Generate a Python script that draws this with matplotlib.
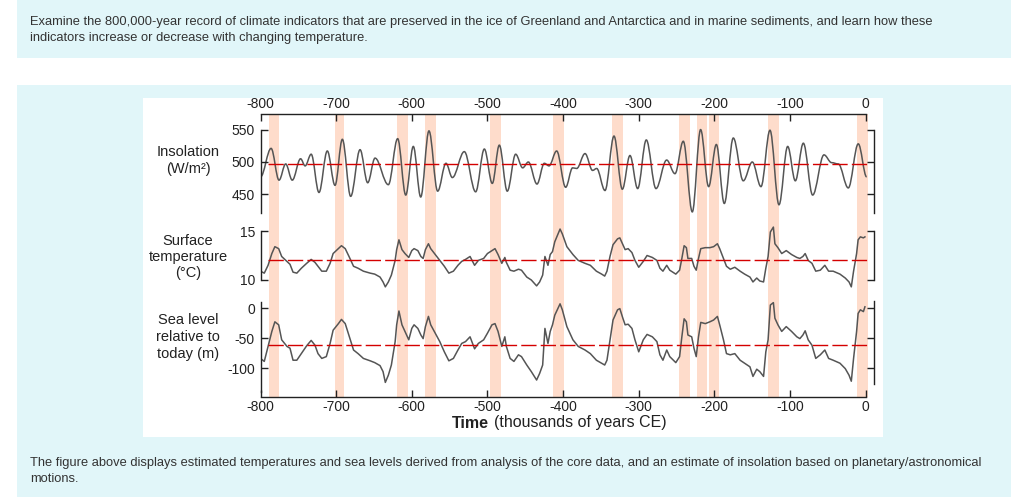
import matplotlib
matplotlib.use("Agg")
import matplotlib.pyplot as plt
from matplotlib.patches import Rectangle, PathPatch
from matplotlib.path import Path

plt.rcParams['font.family'] = ['Liberation Sans', 'DejaVu Sans']
plt.rcParams['axes.unicode_minus'] = False

# ---- data ----
x_ticks = [-800, -700, -600, -500, -400, -300, -200, -100, 0]

# interglacial bands (thousands of years)
bands = [(-789, -775), (-702, -689), (-620, -605), (-583, -568), (-497, -482),
         (-413, -399), (-335, -321), (-247, -232), (-223, -209.5), (-207, -194),
         (-129, -115), (-11.5, 2.6)]

# insolation (W/m2), peaks and troughs
t_ins = [-800, -786, -775.5, -766.7, -758, -747, -741, -733, -722.7, -711.7,
         -701.5, -691.8, -680.8, -668.4, -658.3, -648.6, -631, -618.7, -608, -598,
         -588.2, -577.3, -565.8, -554.8, -546.4, -530.6, -515.6, -504.1, -493.6, -484.3,
         -473.8, -462.7, -453.4, -445.9, -434.5, -424.8, -418.6, -408.5, -396.6, -387.4,
         -382, -371, -361, -355.6, -344.6, -332.7, -321.7, -311.6, -301.4, -290,
         -277.2, -263.1, -252.1, -241.1, -229.2, -218.2, -207.6, -197.4, -186.9, -175,
         -161.8, -149.9, -138.4, -126.5, -114.6, -103.1, -93, -82.4, -70.1, -55.1,
         -45, -36.2, -23, -9.8, 1.3]
insolation = [477, 521, 472, 497, 472, 505, 494, 512, 453, 517,
              464, 535, 447, 519, 468, 506, 465, 536, 449, 524,
              446, 548, 455, 498, 476, 516, 454, 520, 467, 526,
              455, 512, 491, 500, 466, 498, 494, 517, 461, 491,
              490, 513, 487, 490, 456, 540, 458, 510, 459, 534,
              459, 503, 482, 532, 423, 550, 462, 527, 436, 537,
              471, 500, 462, 549, 434, 524, 471, 529, 449, 511,
              499, 497, 460, 528, 477]

# core record: surface temperature (C) and sea level (m)
t_core = [-800, -795, -790, -785, -781, -776, -772, -765, -761, -757,
          -752, -746, -739, -733, -728, -724, -719, -713, -708, -704,
          -697, -693, -688, -683, -677, -671, -664, -655, -649, -642,
          -638, -635, -631, -627, -622, -620, -617, -613, -609, -604,
          -600, -597, -592, -588, -585, -582, -578, -575, -569, -563,
          -557, -551, -545, -539, -534, -529, -523, -517, -512, -505,
          -500, -494, -490, -486, -481, -477, -475, -470, -465, -459,
          -455, -448, -442, -435, -431, -427, -424, -420, -417, -414,
          -411, -404, -401, -395, -387, -380, -371, -364, -356, -349,
          -345, -342, -338, -334, -328, -325, -321, -318, -314, -309,
          -305, -300, -294, -289, -282, -276, -272, -268, -263, -259,
          -251, -246, -243, -240, -237, -235, -230, -227, -224, -221,
          -218, -212, -206, -201, -196, -193, -188, -184, -179, -173,
          -166, -160, -153, -149, -144, -140, -135, -132, -129, -126,
          -122, -120, -116, -111, -105, -98, -91, -87, -83, -80,
          -76, -71, -66, -60, -54, -49, -43, -34, -27, -22,
          -19, -16, -12, -10, -7, -3, -1]
temp = [10.9, 10.7, 11.5, 12.7, 13.4, 13.2, 12.4, 11.9, 11.6, 10.8,
        10.7, 11.2, 11.7, 12.1, 11.8, 11.4, 10.9, 10.9, 11.7, 12.7,
        13.2, 13.5, 13.2, 12.4, 11.4, 11.2, 10.9, 10.7, 10.6, 10.3,
        9.8, 9.3, 9.8, 10.5, 12.0, 13.1, 14.1, 13.1, 12.7, 12.3,
        13.0, 13.2, 13.0, 12.4, 12.2, 13.1, 13.7, 13.2, 12.6, 12.0,
        11.4, 10.7, 10.9, 11.5, 11.9, 12.1, 12.4, 11.5, 12.0, 12.2,
        12.7, 13.0, 13.2, 12.6, 11.7, 12.3, 11.8, 11.0, 10.9, 11.1,
        11.0, 10.3, 10.0, 9.4, 9.8, 10.5, 12.4, 11.5, 12.6, 12.9,
        13.9, 15.2, 14.7, 13.4, 12.6, 12.0, 11.7, 11.5, 10.9, 10.6,
        10.4, 10.9, 12.4, 13.6, 14.2, 14.3, 13.6, 13.1, 13.2, 12.8,
        12.0, 11.3, 11.9, 12.5, 12.3, 12.0, 11.2, 10.9, 11.5, 11.0,
        10.6, 11.0, 12.2, 13.5, 13.3, 12.2, 12.2, 11.4, 11.0, 12.2,
        13.2, 13.3, 13.3, 13.4, 13.7, 13.2, 12.2, 11.4, 11.1, 11.3,
        10.9, 10.6, 10.3, 9.8, 10.2, 9.9, 9.8, 11.2, 12.4, 14.9,
        15.4, 13.7, 13.3, 12.7, 13.0, 12.6, 12.3, 12.2, 12.4, 12.7,
        12.0, 11.7, 10.9, 11.0, 11.5, 10.9, 10.9, 10.6, 10.2, 9.8,
        9.3, 10.9, 12.7, 14.1, 14.4, 14.3, 14.4]
sea = [-84, -89, -64, -39, -23, -28, -53, -64, -67, -87,
       -87, -76, -63, -54, -62, -76, -84, -81, -59, -37,
       -26, -19, -26, -46, -70, -76, -84, -88, -91, -96,
       -106, -124, -112, -95, -56, -28, -5, -28, -39, -53,
       -34, -28, -34, -45, -51, -31, -14, -28, -42, -56,
       -73, -88, -84, -70, -59, -56, -48, -68, -59, -53,
       -42, -28, -26, -39, -64, -48, -64, -84, -89, -78,
       -81, -95, -106, -120, -109, -95, -34, -59, -39, -28,
       -12, 7, -3, -31, -53, -64, -70, -76, -87, -92,
       -95, -87, -53, -20, -3, -1, -17, -28, -27, -34,
       -53, -73, -53, -44, -48, -56, -78, -87, -70, -81,
       -91, -81, -48, -18, -23, -45, -48, -67, -81, -48,
       -24, -26, -23, -20, -14, -28, -53, -76, -78, -76,
       -87, -92, -98, -114, -102, -106, -114, -73, -53, 5,
       9, -17, -28, -39, -31, -39, -48, -51, -45, -38,
       -53, -62, -84, -78, -70, -84, -87, -92, -101, -112,
       -122, -84, -39, -9, -3, -6, 2]

ins_mean = 497
temp_mean = 12.0
sea_mean = -62
dash_span = [-790, 3]

ins_ticks = [450, 500, 550]
temp_ticks = [10, 15]
sea_ticks = [-100, -50, 0]

top_text = ["Examine the 800,000-year record of climate indicators that are preserved in the ice of "
            "Greenland and Antarctica and in marine sediments, and learn how these",
            "indicators increase or decrease with changing temperature."]
bottom_text = ["The figure above displays estimated temperatures and sea levels derived from analysis "
               "of the core data, and an estimate of insolation based on planetary/astronomical",
               "motions."]

# ---- style ----
W, H = 1012, 500
cyan = '#e1f6f9'
band_color = '#fedccb'
line_color = '#555555'
red = '#d40000'
ink = '#222222'

fig = plt.figure(figsize=(W / 100, H / 100), dpi=100)
fig.patch.set_facecolor('white')


def fx(px):
    return px / W


def fy(py):
    return 1 - py / H


def box(x0, y0, x1, y1, color):
    fig.add_artist(Rectangle((fx(x0), fy(y1)), fx(x1) - fx(x0), fy(y0) - fy(y1),
                             transform=fig.transFigure, facecolor=color,
                             edgecolor='none', zorder=0))


box(17, 0, 1012, 58, cyan)
box(17, 85, 1012, 497, cyan)
box(143, 98, 883, 437, 'white')

fig.text(fx(30), fy(22), top_text[0], fontsize=9.3, color='#333333', va='center')
fig.text(fx(30), fy(38), top_text[1], fontsize=9.3, color='#333333', va='center')
fig.text(fx(30), fy(463), bottom_text[0], fontsize=9.3, color='#333333', va='center')
fig.text(fx(30), fy(479), bottom_text[1], fontsize=9.3, color='#333333', va='center')

# chart area in pixels
left, right, top, bottom = 260.5, 874, 114, 397
rect = [fx(left), fy(bottom), fx(right) - fx(left), fy(top) - fy(bottom)]
xlim = (-800, 11)

ax = fig.add_axes(rect)
ax.set_xlim(*xlim)
ax.set_ylim(0, 1)
ax.patch.set_visible(False)
for a, b in bands:
    ax.axvspan(a, b, color=band_color, lw=0, zorder=0)
for s in ['left', 'right']:
    ax.spines[s].set_visible(False)
for s in ['top', 'bottom']:
    ax.spines[s].set_bounds(-800, 0)
    ax.spines[s].set_linewidth(1.0)
    ax.spines[s].set_color(ink)
ax.set_xticks(x_ticks)
ax.set_xticklabels([str(v) for v in x_ticks])
ax.set_yticks([])
ax.tick_params(axis='x', which='both', direction='in', top=True, bottom=True,
               labeltop=True, labelbottom=True, length=5, width=1.0,
               labelsize=10, pad=2, colors=ink)

fig.text(fx(489), fy(423), 'Time', fontsize=11.5, fontweight='bold',
         family=['Liberation Sans Narrow', 'Liberation Sans'], ha='right', va='center', color=ink)
fig.text(fx(494), fy(423), '(thousands of years CE)', fontsize=11.5, ha='left',
         va='center', color=ink)


def panel(ylim, lbounds, rbounds, ticks):
    p = fig.add_axes(rect)
    p.set_xlim(*xlim)
    p.set_ylim(*ylim)
    p.patch.set_visible(False)
    p.spines['top'].set_visible(False)
    p.spines['bottom'].set_visible(False)
    p.spines['left'].set_bounds(*lbounds)
    p.spines['right'].set_bounds(*rbounds)
    for s in ['left', 'right']:
        p.spines[s].set_linewidth(1.0)
        p.spines[s].set_color(ink)
    p.set_xticks([])
    p.set_yticks(ticks)
    p.tick_params(axis='y', direction='in', left=True, right=True, labelleft=True,
                  labelright=False, length=5, width=1.0, labelsize=10, pad=4, colors=ink)
    return p


# insolation: peaks/troughs joined by smooth curves with flat tangents at each extreme
verts = [(t_ins[0], insolation[0])]
codes = [Path.MOVETO]
for i in range(1, len(t_ins)):
    dt = t_ins[i] - t_ins[i - 1]
    verts += [(t_ins[i - 1] + 0.36 * dt, insolation[i - 1]),
              (t_ins[i] - 0.36 * dt, insolation[i]),
              (t_ins[i], insolation[i])]
    codes += [Path.CURVE4] * 3

p1 = panel((137.35, 574.07), (421, 550), (421, 550), ins_ticks)
p1.add_patch(PathPatch(Path(verts, codes), facecolor='none', edgecolor=line_color, lw=1.1))
p1.plot(dash_span, [ins_mean, ins_mean], color=red, lw=1.0, dashes=(11, 3))

p2 = panel((-1.94, 26.94), (10, 15), (10, 15), temp_ticks)
p2.plot(t_core, temp, color=line_color, lw=1.1, solid_joinstyle='round')
p2.plot(dash_span, [temp_mean, temp_mean], color=red, lw=1.0, dashes=(11, 3))

p3 = panel((-148.3, 323.3), (-140, 10.5), (-127, 12), sea_ticks)
p3.plot(t_core, sea, color=line_color, lw=1.1, solid_joinstyle='round')
p3.plot(dash_span, [sea_mean, sea_mean], color=red, lw=1.0, dashes=(11, 3))

label_x = 188
for py, txt in [(152, 'Insolation'), (169, '(W/m²)'),
                (241, 'Surface'), (257, 'temperature'), (273, '(°C)'),
                (320, 'Sea level'), (337, 'relative to'), (354, 'today (m)')]:
    fig.text(fx(label_x), fy(py), txt, fontsize=10.5, ha='center', va='center', color=ink)

fig.savefig('out.png', dpi=100)
